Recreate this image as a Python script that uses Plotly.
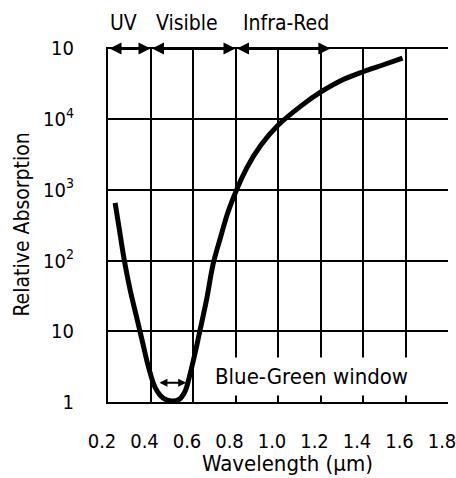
import plotly.graph_objects as go

# Curve data (wavelength in um, relative absorption)
wavelength = [0.2335, 0.2552, 0.277, 0.3043, 0.3348, 0.3639, 0.3913, 0.4227, 0.459, 0.4986,
              0.5364, 0.5636, 0.5818, 0.605, 0.63, 0.6635, 0.695, 0.73, 0.77,
              0.8533, 0.92, 1.0, 1.109, 1.2, 1.307, 1.4, 1.493, 1.586]
absorption = [652, 254, 100, 38.3, 15.8, 6.74, 3.06, 1.585, 1.14, 1.03,
              1.10, 1.44, 2.20, 4.25, 9.36, 27.6, 90, 215, 540,
              2050, 4300, 8170, 15400, 24000, 36300, 46800, 58300, 72800]

x_ticks = [0.2, 0.4, 0.6, 0.8, 1.0, 1.2, 1.4, 1.6, 1.8]
x_ticktext = ["0.2", "0.4", "0.6", "0.8", "1.0", "1.2", "1.4", "1.6", "1.8"]
y_ticks = [1, 10, 100, 1000, 10000, 100000]
y_ticktext = ["1", "10", "10<sup>2</sup>", "10<sup>3</sup>", "10<sup>4</sup>", "10"]

# Spectral bands (start, end, label, label x)
bands = [(0.2, 0.4, "UV", 0.274), (0.4, 0.8, "Visible", 0.573), (0.8, 1.2465, "Infra-Red", 1.036)]
window_range = (0.435, 0.568)

FONT = "DejaVu Sans Condensed, Liberation Sans, Arial, sans-serif"

fig = go.Figure()
fig.add_trace(go.Scatter(x=wavelength, y=absorption, mode="lines",
                         line=dict(color="black", width=5, shape="spline", smoothing=1.0),
                         showlegend=False, hoverinfo="skip"))

ann = []
for s, e, lab, lx in bands:
    ann.append(dict(x=e, y=5, ax=s, ay=5, xref="x", yref="y", axref="x", ayref="y",
                    showarrow=True, arrowhead=2, startarrowhead=2, arrowside="end+start",
                    arrowwidth=3, arrowsize=0.8, startarrowsize=0.8, arrowcolor="black", text=""))
    ann.append(dict(x=lx, y=1.069, xref="x", yref="paper", text=lab, showarrow=False,
                    xanchor="center", yanchor="middle",
                    font=dict(size=21, color="black", family=FONT)))

ann.append(dict(x=1.159, y=0.367, xref="x", yref="y", text="Blue-Green window",
                showarrow=False, bgcolor="white", borderpad=6,
                font=dict(size=22, color="black", family=FONT)))
ann.append(dict(x=window_range[1], y=0.271, ax=window_range[0], ay=0.271,
                xref="x", yref="y", axref="x", ayref="y",
                showarrow=True, arrowhead=2, startarrowhead=2, arrowside="end+start",
                arrowwidth=2, arrowsize=0.8, startarrowsize=0.8, arrowcolor="black", text=""))
ann.append(dict(x=-0.2557, y=0.5, xref="paper", yref="paper", text="Relative Absorption",
                textangle=-90, showarrow=False, xanchor="center", yanchor="middle",
                font=dict(size=21, color="black", family=FONT)))
ann.append(dict(x=0.529, y=-0.174, xref="paper", yref="paper", text="Wavelength (μm)",
                showarrow=False, xanchor="center", yanchor="middle",
                font=dict(size=22, color="black", family=FONT)))

fig.update_layout(
    width=456, height=478,
    margin=dict(l=108, r=0, t=46.6, b=76, pad=0),
    paper_bgcolor="white", plot_bgcolor="white",
    font=dict(family=FONT, size=20, color="black"),
    annotations=ann,
    xaxis=dict(range=[0.2, 1.8], tickvals=x_ticks, ticktext=x_ticktext,
               showgrid=True, gridcolor="black", gridwidth=1.5,
               showline=True, linecolor="black", linewidth=2,
               zeroline=False, ticks="", ticklabelstandoff=20, ticklabelshift=-6,
               ticklabeloverflow="allow", tickfont=dict(size=20)),
    yaxis=dict(type="log", range=[0, 5.02], tickvals=y_ticks, ticktext=y_ticktext,
               showgrid=True, gridcolor="black", gridwidth=1.5,
               showline=True, linecolor="black", linewidth=2,
               zeroline=False, ticks="", ticklabelstandoff=28, tickfont=dict(size=20)),
)

fig.write_html("out.html")
